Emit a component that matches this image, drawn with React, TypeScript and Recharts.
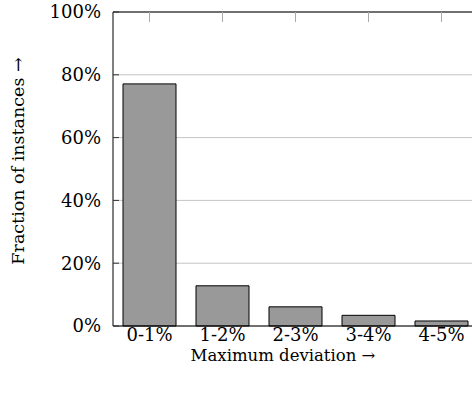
import { BarChart, Bar, XAxis, YAxis, CartesianGrid, Label } from "recharts";

const categories = ["0-1%", "1-2%", "2-3%", "3-4%", "4-5%"];
const fractions = [77.1, 12.8, 6.1, 3.4, 1.6];
const yTicks = [0, 20, 40, 60, 80, 100];

const data = categories.map((cat, i) => ({ cat, value: fractions[i] }));

const font = "'DejaVu Serif', serif";
const pct = (v: number) => `${v}%`;

export default function App() {
  return (
    <div
      style={{
        position: "absolute",
        left: 0,
        top: 0,
        width: 472,
        height: 393,
        overflow: "hidden",
        background: "#fff",
      }}
    >
      <BarChart
        width={480}
        height={393}
        data={data}
        margin={{ top: 11, right: 1, bottom: 37, left: 0 }}
        barCategoryGap={10}
        style={{ fontFamily: font }}
      >
        <CartesianGrid horizontal vertical={false} stroke="#c4c4c4" />
        <XAxis
          dataKey="cat"
          height={30}
          tickSize={-10}
          tickMargin={12}
          axisLine={{ stroke: "#000" }}
          tickLine={false}
          tick={{ fill: "#000", fontSize: 18, fontFamily: font }}
        >
          <Label
            content={() => (
              <text
                x={283}
                y={361}
                textAnchor="middle"
                fontSize={16.5}
                fontFamily={font}
                fill="#000"
              >
                Maximum deviation →
              </text>
            )}
          />
        </XAxis>
        <XAxis
          xAxisId="top"
          dataKey="cat"
          orientation="top"
          height={1}
          tickSize={-10}
          axisLine={{ stroke: "#000" }}
          tickLine={{ stroke: "#aaa" }}
          tickFormatter={() => ""}
        />
        <YAxis
          width={113}
          domain={[0, 100]}
          ticks={yTicks}
          tickFormatter={pct}
          tickSize={-6}
          tickMargin={18}
          interval={0}
          axisLine={{ stroke: "#000" }}
          tickLine={{ stroke: "#333" }}
          tick={{ fill: "#000", fontSize: 18, fontFamily: font }}
        >
          <Label
            content={() => (
              <text
                x={24}
                y={161}
                textAnchor="middle"
                fontSize={17.5}
                fontFamily={font}
                fill="#000"
                transform="rotate(-90 24 161)"
              >
                Fraction of instances →
              </text>
            )}
          />
        </YAxis>
        <YAxis
          yAxisId="right"
          orientation="right"
          width={1}
          domain={[0, 100]}
          ticks={yTicks}
          tickSize={-12}
          interval={0}
          axisLine={{ stroke: "#000" }}
          tickLine={{ stroke: "#333" }}
          tickFormatter={() => ""}
        />
        <Bar
          dataKey="value"
          fill="#999999"
          stroke="#000"
          strokeWidth={1}
          isAnimationActive={false}
        />
      </BarChart>
    </div>
  );
}
